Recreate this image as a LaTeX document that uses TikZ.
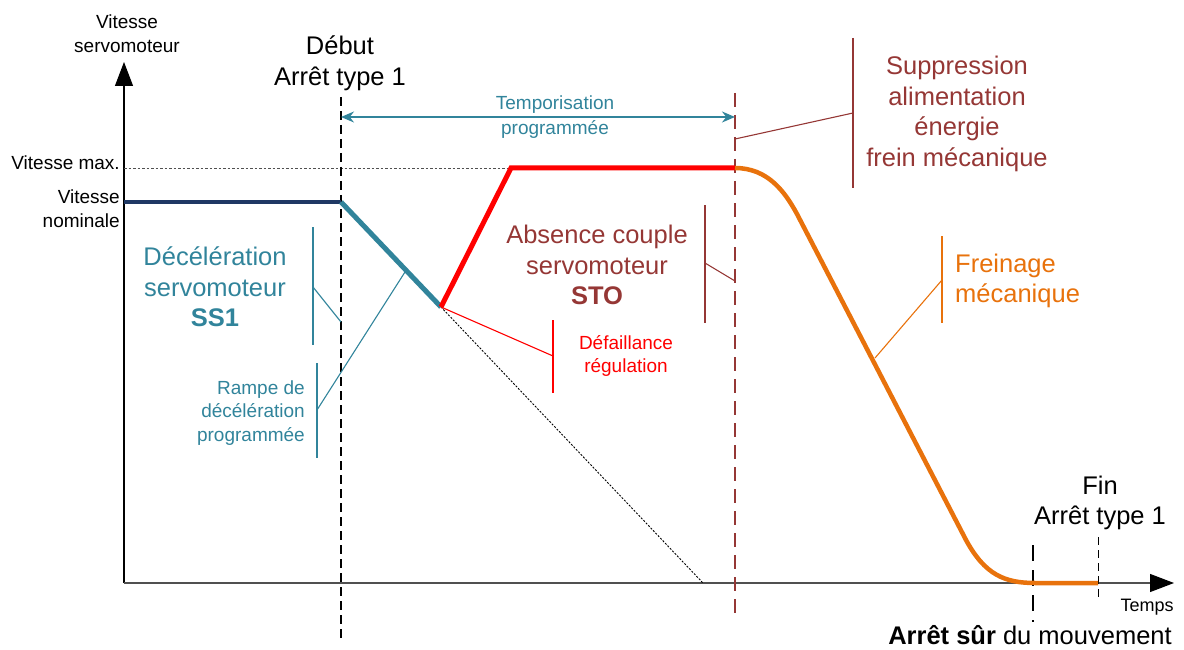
\documentclass[tikz,border=0pt]{standalone}
\usepackage{fontspec}
\setmainfont{Liberation Sans}
\usetikzlibrary{arrows.meta}
\definecolor{navy}{HTML}{1F3864}
\definecolor{teal2}{HTML}{31849B}
\definecolor{brown2}{HTML}{953735}
\definecolor{orange2}{HTML}{E8720C}
\definecolor{axisgrey}{HTML}{505050}
\tikzset{
  big/.style={font=\fontsize{25.5}{30.6}\selectfont, inner sep=0pt, align=center},
  small/.style={font=\fontsize{19}{23.8}\selectfont, inner sep=0pt, align=center},
  bracket/.style={line width=1.4pt},
  conn/.style={line width=1.1pt},
  axis/.style={line width=1.2pt, -{Triangle[length=24pt,width=18pt,black]}},
}
\begin{document}
\begin{tikzpicture}[x=1pt,y=-1pt]
\useasboundingbox (0,0) rectangle (1184,650);
% key coordinates
\coordinate (O) at (124,583);
\coordinate (Ytop) at (124,62);
\coordinate (Xend) at (1174,583);
\coordinate (N0) at (124,202);
\coordinate (N1) at (341,202);
\coordinate (C) at (441,307);
\coordinate (D) at (511,168);
\coordinate (E) at (735,168);
\coordinate (Z) at (703,583);
\coordinate (S) at (1035,583);
\coordinate (F) at (1098,583);
% axes
\draw[axis, black] (O) -- (Ytop);
\draw[axis, axisgrey] (O) -- (Xend);
% max speed dotted
\coordinate (VM0) at (124,168);
\draw[axisgrey, line width=0.9pt, dash pattern=on 2.5pt off 2pt] (VM0) -- (E);
% vertical dashed lines
\coordinate (L1t) at (341,97); \coordinate (L1b) at (341,641);
\draw[black, line width=1.3pt, dash pattern=on 9pt off 5pt] (L1t) -- (L1b);
\coordinate (L2t) at (735,93); \coordinate (L2b) at (735,615);
\draw[brown2, line width=2.5pt, dash pattern=on 14pt off 8pt] (L2t) -- (L2b);
\coordinate (L3t) at (1033,545); \coordinate (L3b) at (1033,622);
\draw[black, line width=2.2pt, dash pattern=on 16pt off 9pt] (L3t) -- (L3b);
\coordinate (L4t) at (1098,537); \coordinate (L4b) at (1098,600);
\draw[black, line width=1pt, dash pattern=on 8pt off 5pt] (L4t) -- (L4b);
% dotted extrapolation
\draw[black, line width=0.9pt, dash pattern=on 2pt off 1.5pt] (C) -- (Z);
% speed curves
\draw[navy, line width=4pt] (N0) -- (N1);
\draw[teal2, line width=5pt] (N1) -- (C);
\draw[red, line width=5pt, line join=miter] (C) -- (D) -- (E);
\draw[orange2, line width=4.5pt] (E) .. controls (768,168) and (785,192) .. (797,214)
  -- (966,540) .. controls (985,575) and (1005,583) .. (S) -- (F);
% temporisation arrow
\coordinate (T0) at (341,117); \coordinate (T1) at (735,117);
\draw[teal2, line width=1.3pt, {Stealth[length=13pt,width=11pt]}-{Stealth[length=13pt,width=11pt]}] (T0) -- (T1);
\node[small, teal2] (tempo) at (555,117) {Temporisation\\[2pt]programmée};
% labels
\node[small] (ylab) at (127,34) {Vitesse\\servomoteur};
\node[big] (debut) at (340,63) {Début\\Arrêt type 1};
\node[small, anchor=east] (vmax) at (120,163) {Vitesse max.};
\node[small, anchor=east, align=right] (vnom) at (120,209) {Vitesse\\nominale};
% SS1
\node[big, teal2] (decel) at (215,287) {Décélération\\servomoteur\\\textbf{SS1}};
\coordinate (b1t) at (313,227); \coordinate (b1b) at (313,345); \coordinate (b1m) at (313,287);
\coordinate (b1e) at (341,322);
\draw[teal2, bracket] (b1t) -- (b1b);
\draw[teal2, conn] (b1m) -- (b1e);
% rampe
\node[small, teal2, anchor=east, align=right] (rampe) at (305,413) {Rampe de\\décélération\\programmée};
\coordinate (b2t) at (317,363); \coordinate (b2b) at (317,458); \coordinate (b2m) at (317,410);
\coordinate (b2e) at (405,272);
\draw[teal2, bracket] (b2t) -- (b2b);
\draw[teal2, conn] (b2m) -- (b2e);
% STO
\node[big, brown2] (sto) at (597,265) {Absence couple\\servomoteur\\\textbf{STO}};
\coordinate (b3t) at (705,205); \coordinate (b3b) at (705,323); \coordinate (b3m) at (705,263);
\coordinate (b3e) at (735,281);
\draw[brown2, bracket] (b3t) -- (b3b);
\draw[brown2, conn] (b3m) -- (b3e);
% defaillance
\node[small, red] (defa) at (626,356) {Défaillance\\régulation};
\coordinate (b4t) at (553,320); \coordinate (b4b) at (553,393); \coordinate (b4m) at (553,356);
\draw[red, bracket] (b4t) -- (b4b);
\draw[red, conn] (b4m) -- (C);
% suppression
\node[big, brown2] (supp) at (957,114) {Suppression\\alimentation\\énergie\\frein mécanique};
\coordinate (b5t) at (853,38); \coordinate (b5b) at (853,188); \coordinate (b5m) at (853,113);
\coordinate (b5e) at (735,139);
\draw[brown2, bracket] (b5t) -- (b5b);
\draw[brown2, conn] (b5m) -- (b5e);
% freinage
\node[big, orange2, anchor=west, align=left] (frein) at (955,281) {Freinage\\mécanique};
\coordinate (b6t) at (942,236); \coordinate (b6b) at (942,323); \coordinate (b6m) at (942,280);
\coordinate (b6e) at (875,358);
\draw[orange2, bracket] (b6t) -- (b6b);
\draw[orange2, conn] (b6m) -- (b6e);
% end labels
\node[big] (fin) at (1100,503) {Fin\\Arrêt type 1};
\node[font=\fontsize{18}{21}\selectfont, inner sep=0pt] (temps) at (1147,607) {Temps};
\node[big] (sur) at (1030,635) {\textbf{Arrêt sûr} du mouvement};
\end{tikzpicture}
\end{document}
